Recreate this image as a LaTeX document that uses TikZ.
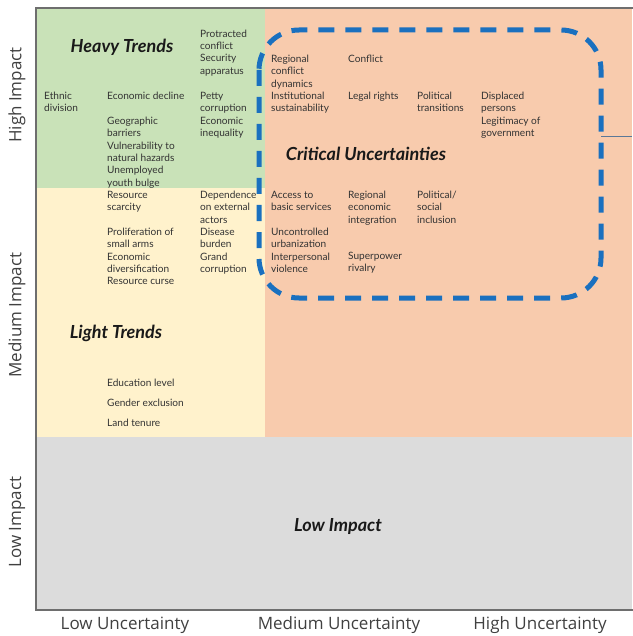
\documentclass[tikz,border=0pt]{standalone}
\usepackage{fontspec}
\setmainfont{Lato}
\newfontfamily\axisfont{Open Sans}
\definecolor{cgreen}{HTML}{C9E2B8}
\definecolor{cyellow}{HTML}{FFF2CC}
\definecolor{corange}{HTML}{F8CBAD}
\definecolor{cgray}{HTML}{DCDCDC}
\definecolor{cblue}{HTML}{1A70BF}
\definecolor{ctxt}{HTML}{333333}
\definecolor{cframe}{HTML}{6E6E6E}
\definecolor{clink}{HTML}{5A7898}
\tikzset{
  item/.style={anchor=north west, align=left, inner sep=0pt, text=ctxt,
    font=\fontsize{10.1}{12.3}\selectfont},
  title/.style={inner sep=0pt, text=black!90,
    font=\fontsize{18}{20}\selectfont\bfseries\itshape},
  axislbl/.style={inner sep=0pt, text=black!75,
    font=\axisfont\fontsize{17}{19}\selectfont},
}
\begin{document}
\begin{tikzpicture}[x=1pt,y=-1pt]
\useasboundingbox (0,0) rectangle (632,636);
% zones
\fill[cgreen] (36,8) rectangle (265,188);
\fill[cyellow] (36,188) rectangle (265,437);
\fill[corange] (265,8) rectangle (632,437);
\fill[cgray] (36,437) rectangle (632,610);
% frame
\draw[cframe, line width=1.2pt] (640,8) -- (36,8) -- (36,610) -- (640,610);
% axis labels
\node[axislbl, rotate=90] (hi) at (17,95) {High Impact};
\node[axislbl, rotate=90] (mi) at (17,315) {Medium Impact};
\node[axislbl, rotate=90] (li) at (17,522) {Low Impact};
\node[axislbl] (lu) at (125,625) {Low Uncertainty};
\node[axislbl] (mu) at (339,625) {Medium Uncertainty};
\node[axislbl] (hu) at (540,625) {High Uncertainty};
% titles
\node[title] (heavy) at (122,47) {Heavy Trends};
\node[title] (crit) at (366,154) {Critical Uncertainties};
\node[title] (light) at (116,333) {Light Trends};
\node[title] (low) at (338,526) {Low Impact};
% heavy trends items
\node[item] (n1) at (200,29.5) {Protracted\\conflict\\Security\\apparatus};
\node[item] (n2) at (44,92) {Ethnic\\division};
\node[item] (n3) at (107,92) {Economic decline};
\node[item] (n4) at (107,117) {Geographic\\barriers\\Vulnerability to\\natural hazards\\Unemployed\\youth bulge};
\node[item] (n5) at (200,92) {Petty\\corruption\\Economic\\inequality};
% critical top
\node[item] (n6) at (271,55) {Regional\\conflict\\dynamics\\Institutional\\sustainability};
\node[item] (n7) at (348,55) {Conflict};
\node[item] (n8) at (348,92) {Legal rights};
\node[item] (n9) at (417,92) {Political\\transitions};
\node[item] (n10) at (481,92) {Displaced\\persons\\Legitimacy of\\government};
% medium band
\node[item] (n11) at (107,191) {Resource\\scarcity};
\node[item] (n12) at (200,191) {Dependence\\on external\\actors};
\node[item] (n13) at (107,228) {Proliferation of\\small arms\\Economic\\diversification\\Resource curse};
\node[item] (n14) at (200,228) {Disease\\burden\\Grand\\corruption};
\node[item] (n15) at (271,191) {Access to\\basic services};
\node[item] (n16) at (348,191) {Regional\\economic\\integration};
\node[item] (n17) at (417,191) {Political/\\social\\inclusion};
\node[item] (n18) at (271,228) {Uncontrolled\\urbanization\\Interpersonal\\violence};
\node[item] (n19) at (348,252) {Superpower\\rivalry};
% light trends
\node[item] (n20) at (107,379) {Education level};
\node[item] (n21) at (107,399) {Gender exclusion};
\node[item] (n22) at (107,419) {Land tenure};
% critical uncertainty box
\draw[cblue, line width=5pt, dash pattern=on 16pt off 11pt, rounded corners=40pt]
  (259,30) rectangle (601,298);
\coordinate (boxr) at (601,137);
\coordinate (edge) at (632,137);
\draw[clink, line width=1pt] (boxr) -- (edge);
\end{tikzpicture}
\end{document}
